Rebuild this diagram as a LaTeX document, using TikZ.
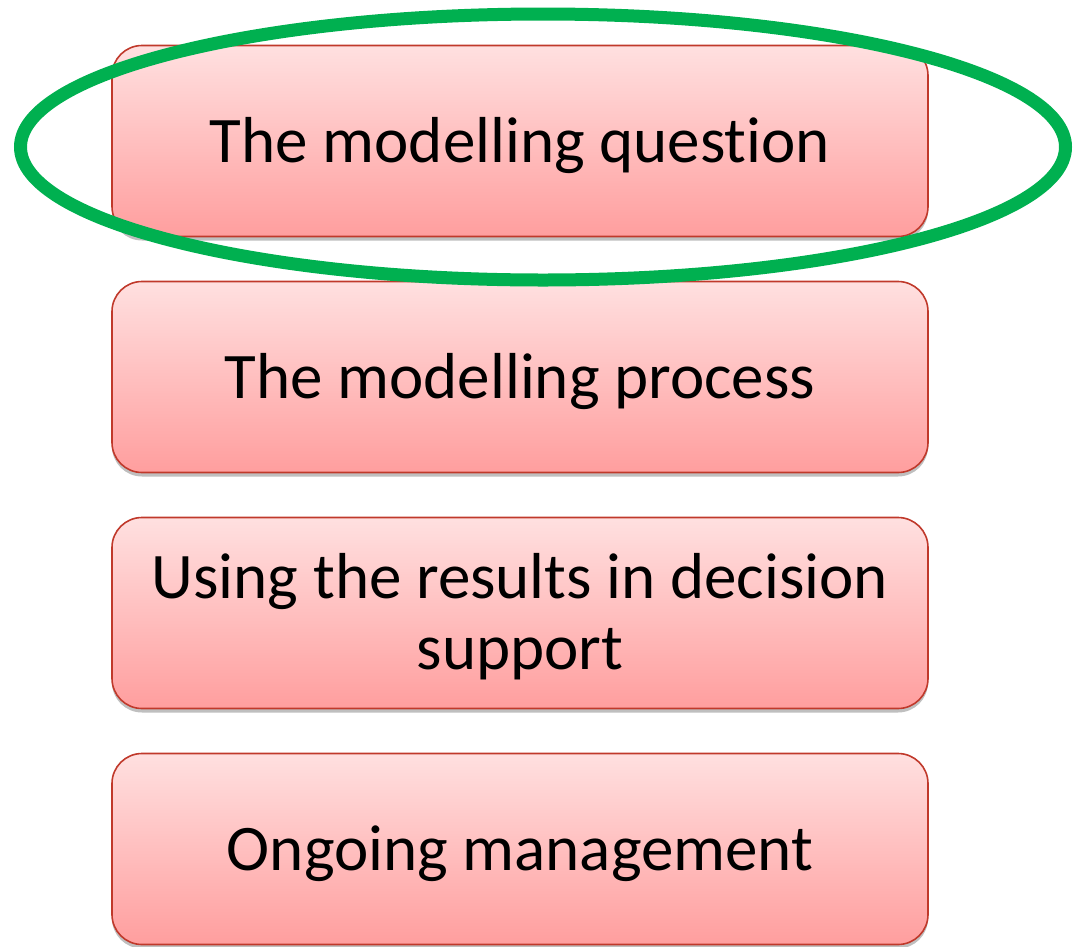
\documentclass[tikz,border=0pt]{standalone}
\usepackage{fontspec}
\setmainfont[Ligatures={NoCommon}]{Carlito}
\usetikzlibrary{shadows,shapes.geometric}
\definecolor{boxtop}{HTML}{FFE0E0}
\definecolor{boxbottom}{HTML}{FF9E9E}
\definecolor{boxedge}{HTML}{C0392B}
\definecolor{ringgreen}{HTML}{00B050}
\begin{document}
\begin{tikzpicture}[x=1pt,y=-1pt,
  stagebox/.style={rectangle, rounded corners=30pt, draw=boxedge, line width=1.6pt,
    top color=boxtop, bottom color=boxbottom,
    minimum width=816pt, minimum height=191pt, align=center, inner sep=0pt,
    font=\fontsize{65}{71}\selectfont, text height=42pt, text depth=0pt,
    drop shadow={shadow xshift=0pt, shadow yshift=-4pt, opacity=0.25, fill=black}},
  ring/.style={draw=ringgreen, line width=13pt}]
  \useasboundingbox (0,0) rectangle (1074,946);
  \node[stagebox] (q) at (520,141) {The modelling question};
  \node[stagebox] (p) at (520,377) {The modelling process};
  \node[stagebox, text height=113pt, text depth=0pt] (u) at (520,613) {Using the results in decision\\support};
  \node[stagebox] (m) at (520,849) {Ongoing management};
  \node[ring, ellipse, minimum width=1045pt, minimum height=266pt, inner sep=0pt] (hl) at (543,147) {};
\end{tikzpicture}
\end{document}
